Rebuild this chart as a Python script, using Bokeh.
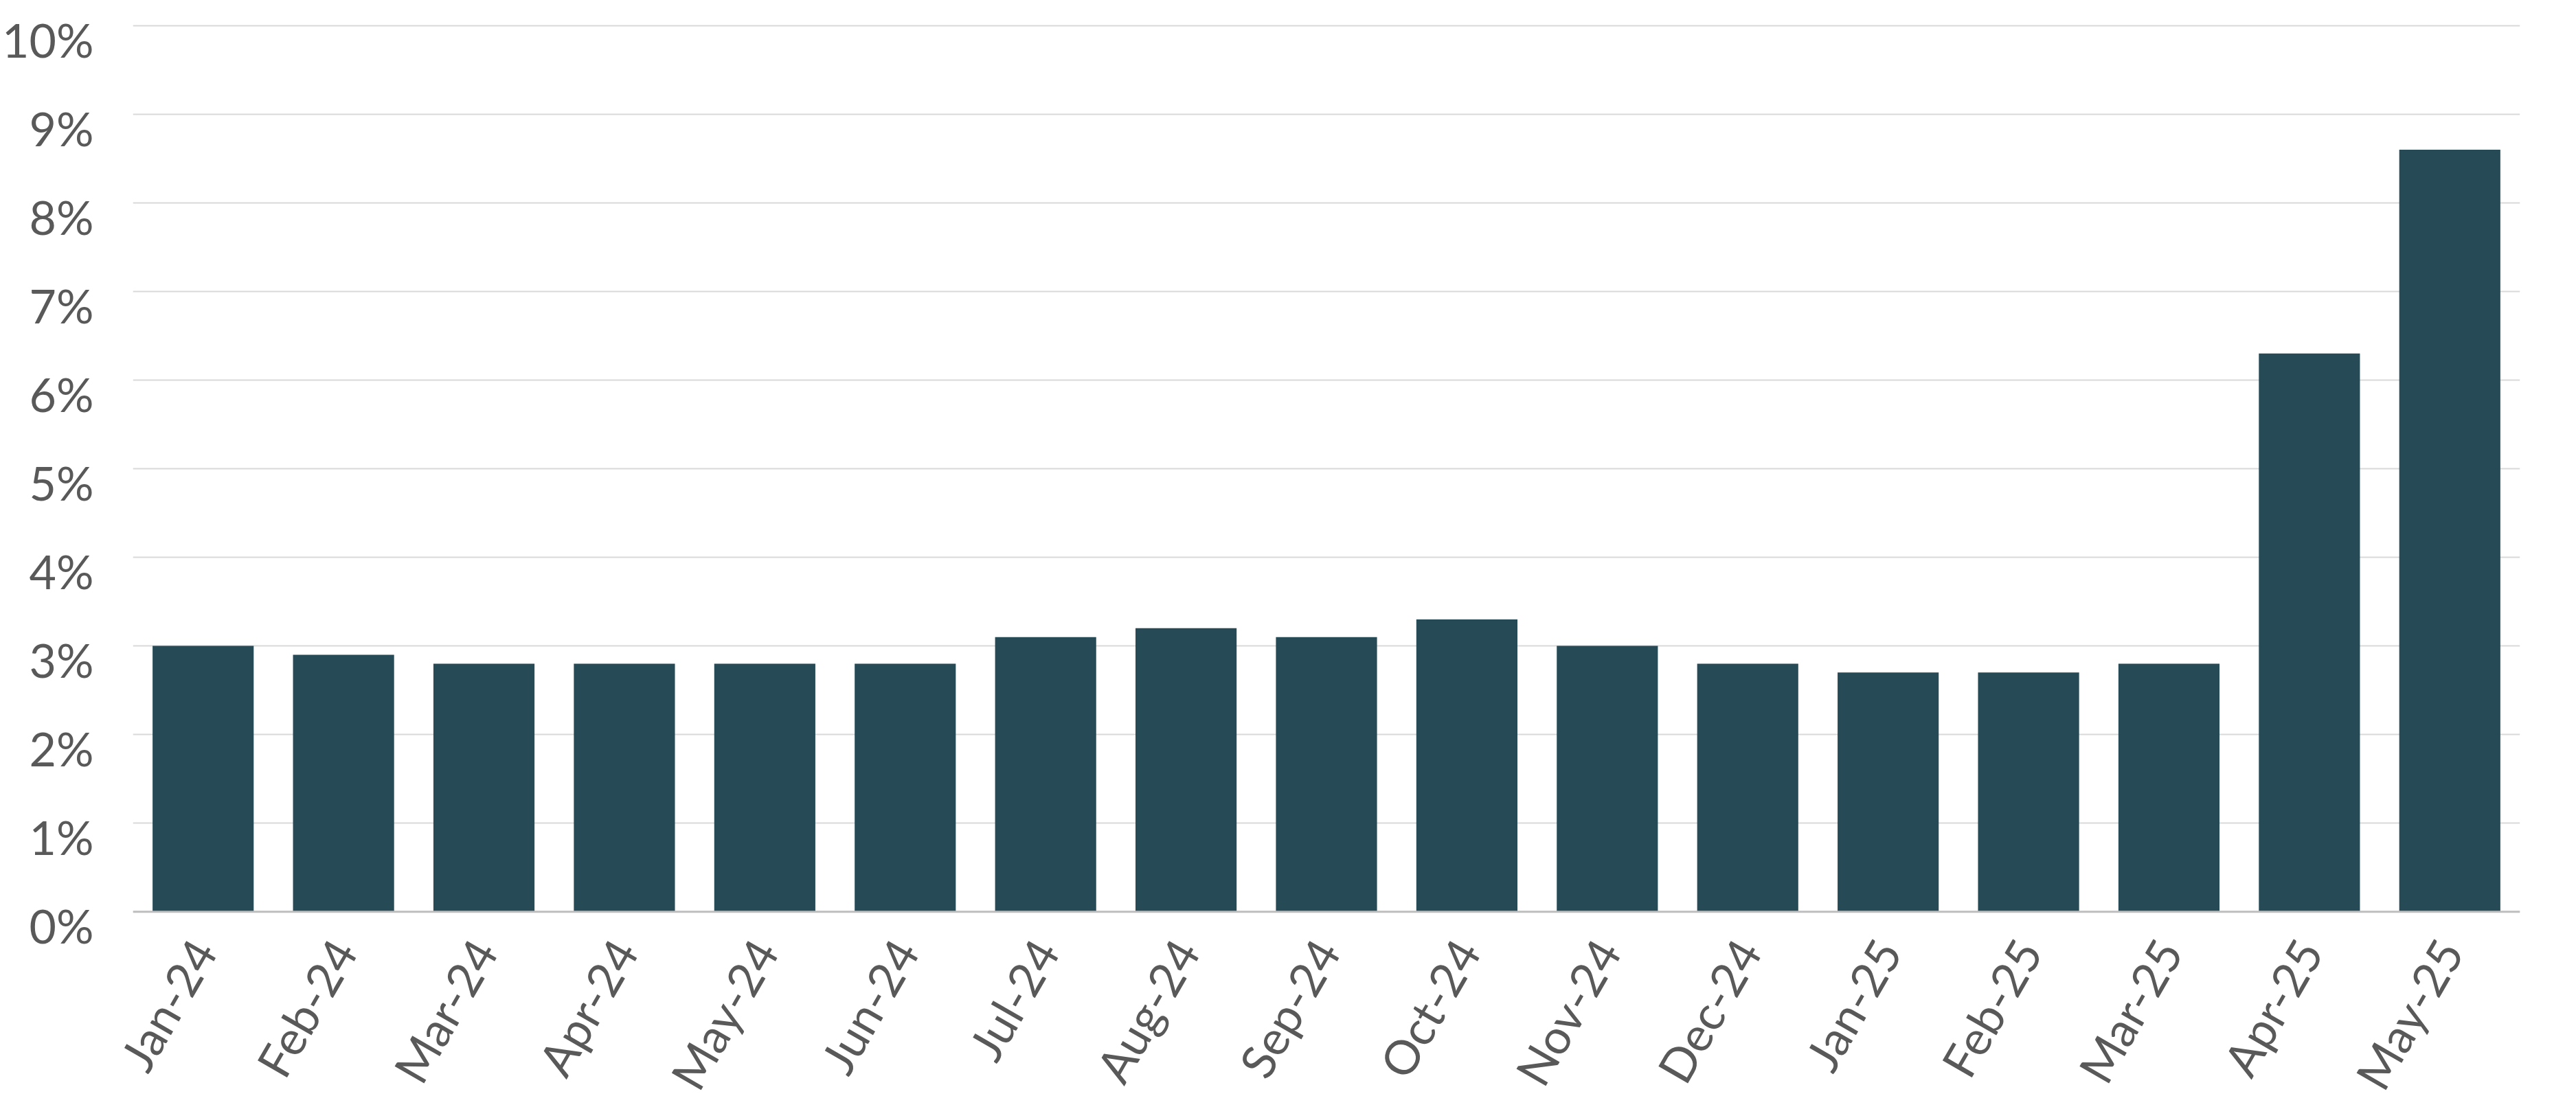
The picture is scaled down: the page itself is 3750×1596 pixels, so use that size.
import math
from bokeh.plotting import figure
from bokeh.models import (Range1d, FactorRange, LinearAxis, FixedTicker, Span,
                          PrintfTickFormatter, ColumnDataSource)
from bokeh.embed import file_html
from bokeh.resources import INLINE

months = ["Jan-24", "Feb-24", "Mar-24", "Apr-24", "May-24", "Jun-24", "Jul-24",
          "Aug-24", "Sep-24", "Oct-24", "Nov-24", "Dec-24", "Jan-25", "Feb-25",
          "Mar-25", "Apr-25", "May-25"]
rates = [3.0, 2.9, 2.8, 2.8, 2.8, 2.8, 3.1, 3.2, 3.1, 3.3, 3.0, 2.8, 2.7, 2.7,
         2.8, 6.3, 8.6]
y_ticks = [0, 1, 2, 3, 4, 5, 6, 7, 8, 9, 10]

FONT = "Lato"
TXT = "#595959"
BAR = "#264B57"

Y0, Y1 = -0.2, 10.03          # plotted value range (frame)
LAB_DY = 0.155                # y labels sit a little below their gridlines

p = figure(frame_width=3475, frame_height=1320,
           x_range=FactorRange(*months), y_range=Range1d(Y0, Y1),
           output_backend="svg", toolbar_location=None,
           min_border_left=191, min_border_right=68, min_border_top=33,
           min_border_bottom=10)
p.outline_line_color = None
p.background_fill_color = "white"
p.border_fill_color = "white"

src = ColumnDataSource(dict(month=months, rate=rates))
p.vbar(x="month", top="rate", bottom=0, width=0.72, source=src,
       fill_color=BAR, line_color=None)

# grid
p.xgrid.visible = False
p.yaxis.visible = False
p.ygrid.ticker = FixedTicker(ticks=y_ticks)
p.ygrid.grid_line_color = "#D9D9D9"
p.ygrid.grid_line_width = 2

p.add_layout(Span(location=0, dimension="width", line_color="#BFBFBF",
                  line_width=3))

# y labels
p.extra_y_ranges = {"lab": Range1d(Y0 + LAB_DY, Y1 + LAB_DY)}
yax = LinearAxis(y_range_name="lab", ticker=FixedTicker(ticks=y_ticks),
                 formatter=PrintfTickFormatter(format="%d%%"))
yax.axis_line_color = None
yax.major_tick_line_color = None
yax.minor_tick_line_color = None
yax.major_tick_out = 0
yax.major_tick_in = 0
yax.major_label_standoff = 57
yax.major_label_text_font = FONT
yax.major_label_text_font_size = "68px"
yax.major_label_text_color = TXT
p.add_layout(yax, "left")

# x labels
xa = p.xaxis[0]
xa.axis_line_color = None
xa.major_tick_line_color = None
xa.minor_tick_line_color = None
xa.major_tick_out = 0
xa.major_tick_in = 0
xa.major_label_standoff = 20
xa.major_label_orientation = math.pi / 3
xa.major_label_text_font = FONT
xa.major_label_text_font_size = "69px"
xa.major_label_text_color = TXT

open("out.html", "w").write(file_html(p, INLINE))
